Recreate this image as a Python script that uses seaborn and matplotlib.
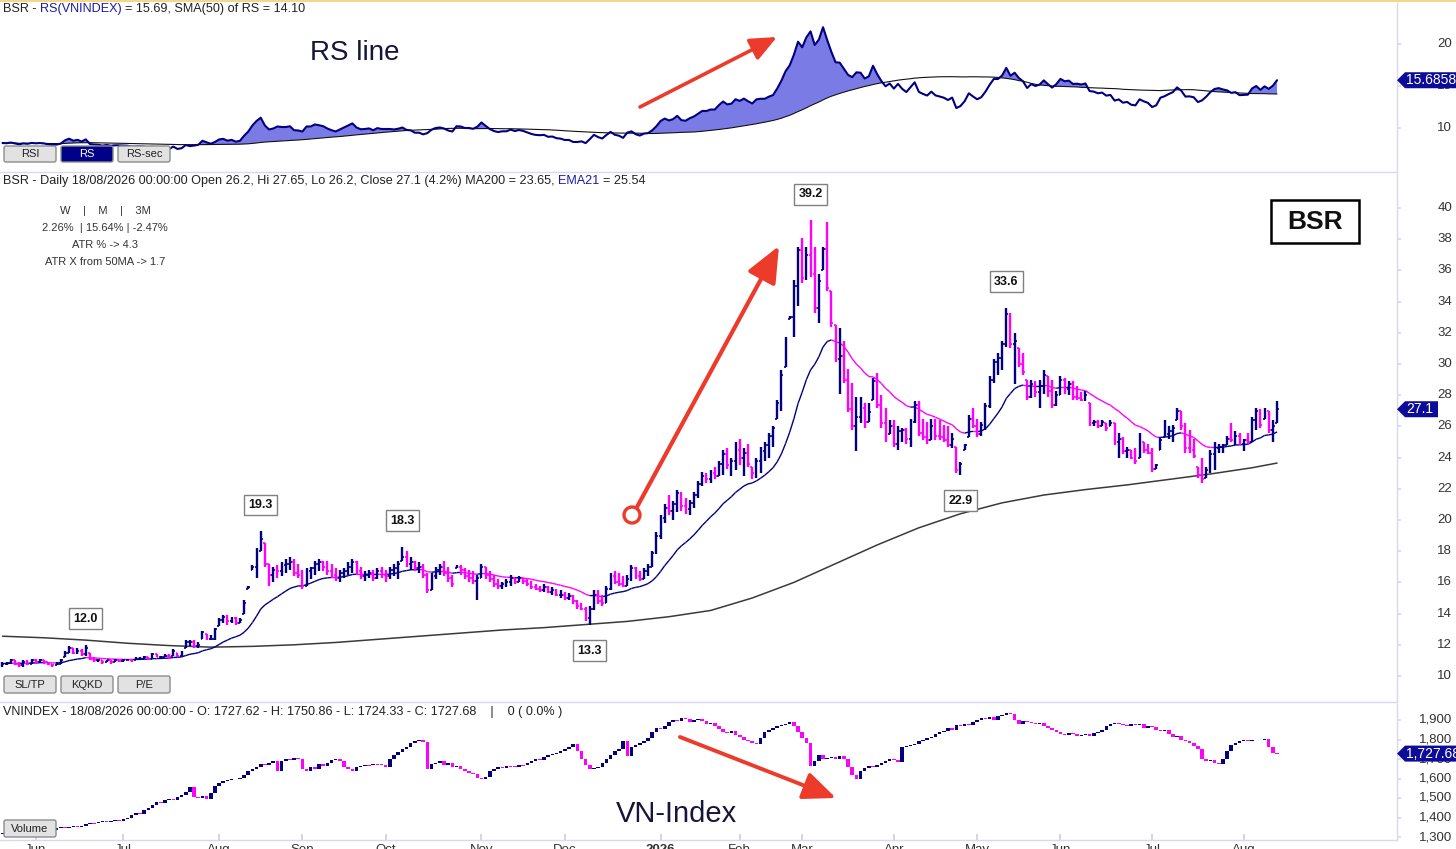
import numpy as np
import pandas as pd
import matplotlib
matplotlib.use("Agg")
import matplotlib.pyplot as plt
import seaborn as sns
from matplotlib.collections import LineCollection
from matplotlib.patches import FancyBboxPatch, Polygon, Circle
from matplotlib.lines import Line2D
from matplotlib.transforms import IdentityTransform

# ---------------- data ----------------
bsr_low = [
    10.6, 10.7, 10.8, 10.7, 10.6, 10.6, 10.7, 10.8, 10.8, 10.9,
    10.8, 10.7, 10.6, 10.7, 10.8, 11.2, 11.5, 11.4, 11.4, 11.3,
    11.3, 11.0, 10.9, 10.9, 10.8, 10.9, 10.8, 10.9, 10.9, 10.9,
    11.0, 10.9, 11.0, 11.0, 11.1, 11.0, 11.1, 11.2, 11.1, 11.2,
    11.1, 11.3, 11.2, 11.3, 11.8, 11.9, 11.8, 11.8, 12.4, 12.3,
    12.3, 12.3, 13.2, 13.4, 13.3, 13.4, 13.3, 13.4, 14.0, 15.6,
    16.8, 16.3, 18.0, 17.0, 15.8, 16.0, 16.3, 16.4, 16.6, 16.8,
    16.4, 16.3, 15.6, 15.8, 16.2, 16.5, 16.7, 16.7, 16.5, 16.3,
    16.1, 16.0, 16.3, 16.5, 16.6, 16.5, 16.2, 16.1, 16.3, 16.1,
    16.2, 16.3, 16.0, 16.2, 16.4, 16.2, 17.4, 17.0, 16.8, 16.7,
    16.6, 16.3, 15.3, 15.5, 16.2, 16.5, 16.4, 16.0, 15.7, 16.9,
    16.5, 16.2, 16.0, 15.9, 14.9, 16.3, 16.2, 16.0, 15.7, 15.6,
    15.6, 15.7, 15.8, 15.9, 16.0, 15.9, 15.8, 15.6, 15.5, 15.4,
    15.4, 15.3, 15.2, 15.1, 15.0, 14.9, 14.9, 14.6, 14.3, 14.2,
    13.5, 13.3, 14.2, 14.6, 14.5, 14.7, 15.5, 15.9, 15.8, 15.7,
    15.8, 16.1, 16.2, 16.1, 16.2, 16.4, 17.0, 17.8, 18.8, 19.8,
    20.3, 20.0, 20.5, 20.6, 20.4, 20.3, 20.8, 21.4, 22.2, 22.4,
    22.4, 22.6, 22.8, 22.9, 23.3, 22.8, 23.2, 23.5, 22.8, 23.4,
    22.6, 22.7, 23.0, 23.8, 24.0, 24.7, 26.5, 27.0, 29.8, 32.9,
    31.7, 33.7, 35.2, 35.4, 35.6, 33.3, 32.6, 36.0, 34.7, 32.4,
    30.1, 28.1, 28.8, 26.9, 25.8, 24.4, 26.2, 25.9, 26.3, 27.7,
    27.2, 25.9, 25.0, 25.5, 24.7, 24.5, 25.0, 24.9, 24.7, 26.2,
    25.4, 25.1, 24.9, 25.1, 25.1, 25.1, 25.0, 24.7, 24.6, 23.0,
    22.9, 24.5, 25.3, 25.9, 25.3, 25.4, 25.8, 27.2, 28.8, 29.3,
    29.6, 31.1, 31.0, 28.7, 29.8, 29.3, 27.7, 27.8, 27.9, 27.2,
    28.1, 27.9, 27.2, 27.3, 28.0, 28.1, 28.0, 27.7, 27.7, 27.6,
    27.6, 26.0, 26.0, 25.9, 26.0, 25.7, 26.0, 24.8, 24.0, 24.2,
    24.0, 23.9, 23.6, 24.0, 24.3, 24.2, 23.1, 23.3, 24.5, 25.3,
    25.2, 25.0, 26.4, 25.8, 24.3, 24.3, 24.0, 22.7, 22.4, 22.7,
    23.0, 23.2, 24.3, 24.3, 24.8, 25.0, 24.8, 24.8, 24.4, 24.9,
    25.0, 25.8, 25.9, 26.5, 25.6, 25.0, 26.2]

bsr_high = [
    10.9, 10.9, 11.1, 11.0, 10.9, 11.0, 11.0, 11.1, 11.1, 11.1,
    11.0, 10.9, 10.8, 10.9, 11.1, 11.6, 11.9, 11.8, 11.8, 11.7,
    12.0, 11.5, 11.2, 11.1, 11.0, 11.0, 11.0, 11.1, 11.0, 11.1,
    11.1, 11.1, 11.2, 11.2, 11.3, 11.2, 11.5, 11.4, 11.3, 11.4,
    11.4, 11.7, 11.5, 11.6, 12.3, 12.3, 12.3, 12.2, 12.9, 12.7,
    12.6, 13.1, 13.7, 13.9, 13.9, 13.8, 13.8, 13.7, 14.9, 15.8,
    17.1, 18.2, 19.3, 18.5, 17.2, 17.0, 17.1, 17.3, 17.5, 17.6,
    17.5, 17.2, 16.8, 16.9, 17.0, 17.4, 17.5, 17.4, 17.4, 17.2,
    16.9, 16.8, 16.9, 17.3, 17.5, 17.4, 17.0, 16.7, 16.8, 16.8,
    16.9, 17.0, 16.8, 17.0, 17.2, 17.4, 18.3, 18.0, 17.6, 17.4,
    17.3, 17.2, 16.6, 16.6, 17.0, 17.2, 17.4, 17.0, 16.5, 17.1,
    17.1, 16.9, 16.8, 16.7, 16.5, 17.2, 17.0, 16.7, 16.5, 16.2,
    16.0, 16.2, 16.5, 16.3, 16.4, 16.3, 16.2, 16.1, 15.9, 15.8,
    15.9, 15.8, 15.7, 15.6, 15.5, 15.4, 15.3, 15.2, 14.9, 14.7,
    14.4, 14.5, 15.5, 15.5, 15.2, 15.8, 16.6, 16.7, 16.6, 16.4,
    16.5, 17.1, 17.0, 16.7, 16.9, 17.2, 18.0, 19.2, 20.3, 21.0,
    21.6, 21.2, 21.9, 21.8, 21.4, 21.3, 21.8, 22.5, 23.1, 23.0,
    23.2, 23.4, 23.8, 24.5, 24.6, 24.0, 25.0, 25.2, 24.6, 24.9,
    23.4, 24.0, 24.7, 25.0, 25.6, 26.0, 27.7, 29.6, 31.7, 33.1,
    35.4, 37.5, 38.1, 37.5, 39.2, 37.5, 35.8, 37.5, 39.1, 34.7,
    32.5, 32.3, 31.5, 29.7, 28.8, 27.9, 27.9, 27.5, 27.5, 29.1,
    29.4, 28.0, 27.2, 26.4, 26.4, 26.0, 25.9, 25.9, 26.5, 27.6,
    27.6, 26.5, 26.3, 26.5, 26.5, 26.4, 26.1, 26.0, 25.6, 24.7,
    23.7, 24.9, 26.7, 27.2, 26.5, 26.3, 27.5, 29.2, 30.3, 30.7,
    31.5, 33.6, 33.3, 32.0, 31.0, 30.7, 29.0, 29.0, 28.9, 29.0,
    29.6, 29.2, 29.0, 28.3, 29.2, 29.1, 28.9, 28.9, 28.6, 28.2,
    28.3, 27.5, 26.4, 26.4, 26.4, 26.2, 26.4, 26.2, 25.6, 25.3,
    24.7, 24.5, 24.6, 25.6, 25.0, 24.9, 24.6, 23.6, 25.3, 26.4,
    26.0, 26.1, 27.2, 27.0, 26.2, 25.8, 25.2, 23.4, 24.0, 23.4,
    24.5, 25.0, 24.9, 24.9, 25.4, 26.2, 25.7, 25.6, 25.2, 25.6,
    26.6, 27.2, 27.1, 27.2, 27.0, 26.4, 27.65]

bsr_close = [
    10.8, 10.85, 11.0, 10.8, 10.7, 10.9, 10.8, 11.0, 10.9, 11.0,
    10.9, 10.8, 10.7, 10.8, 11.0, 11.5, 11.8, 11.5, 11.6, 11.4,
    11.8, 11.1, 11.0, 11.0, 10.9, 11.0, 10.9, 11.0, 10.95, 11.0,
    11.05, 11.0, 11.1, 11.1, 11.2, 11.1, 11.4, 11.2, 11.2, 11.3,
    11.2, 11.6, 11.3, 11.5, 12.2, 12.2, 11.9, 12.0, 12.8, 12.4,
    12.4, 13.0, 13.6, 13.8, 13.5, 13.7, 13.4, 13.6, 14.7, 15.7,
    17.0, 18.0, 18.8, 17.2, 16.5, 16.8, 16.7, 17.1, 17.2, 17.3,
    16.6, 16.5, 15.8, 16.7, 16.9, 17.2, 17.3, 17.0, 16.7, 16.5,
    16.3, 16.6, 16.7, 17.0, 17.3, 16.7, 16.4, 16.5, 16.6, 16.3,
    16.7, 16.5, 16.4, 16.8, 16.9, 17.2, 17.6, 17.2, 17.3, 16.9,
    17.0, 16.5, 15.5, 16.4, 16.8, 17.0, 16.6, 16.3, 15.9, 17.0,
    16.8, 16.4, 16.3, 16.1, 16.3, 17.0, 16.5, 16.2, 15.9, 15.8,
    15.9, 16.0, 16.3, 16.0, 16.3, 16.1, 15.9, 15.7, 15.6, 15.5,
    15.7, 15.4, 15.5, 15.2, 15.2, 15.0, 15.1, 14.8, 14.5, 14.3,
    13.7, 14.3, 15.2, 14.8, 14.7, 15.6, 16.4, 16.0, 15.9, 15.8,
    16.2, 16.9, 16.4, 16.2, 16.7, 17.0, 17.9, 19.0, 20.1, 20.8,
    20.6, 21.0, 21.7, 20.9, 20.7, 21.1, 21.6, 22.3, 22.8, 22.6,
    23.0, 22.8, 23.6, 24.2, 23.5, 23.8, 24.5, 24.0, 24.3, 23.6,
    23.0, 23.8, 24.4, 24.8, 25.4, 25.9, 27.5, 29.3, 31.5, 33.0,
    35.0, 37.3, 35.5, 37.0, 35.8, 33.6, 35.3, 37.4, 34.9, 32.6,
    30.3, 30.5, 29.0, 27.1, 26.0, 26.6, 27.2, 26.3, 26.9, 28.9,
    27.4, 26.2, 25.3, 26.0, 24.9, 25.7, 25.8, 25.2, 26.3, 27.4,
    25.6, 25.3, 25.1, 26.0, 25.4, 25.3, 25.1, 24.8, 25.2, 23.2,
    23.6, 24.8, 26.5, 26.0, 25.5, 26.1, 27.3, 29.0, 30.1, 30.4,
    31.3, 33.2, 31.3, 31.5, 30.0, 29.5, 27.9, 28.7, 28.2, 28.6,
    29.3, 28.3, 27.4, 28.0, 29.0, 28.4, 28.7, 27.9, 27.8, 27.7,
    28.0, 26.2, 26.3, 26.0, 26.3, 25.9, 26.2, 25.0, 25.2, 24.4,
    24.5, 24.0, 23.8, 25.2, 24.5, 24.3, 23.3, 23.5, 25.1, 25.5,
    25.7, 25.9, 27.0, 26.0, 24.6, 24.5, 24.1, 22.9, 22.6, 23.2,
    24.2, 24.6, 24.7, 24.8, 25.2, 25.1, 25.4, 24.9, 25.1, 25.0,
    26.4, 27.0, 26.1, 27.0, 25.8, 26.0, 27.1]

vn_close = [
    1315, 1325, 1330, 1322, 1328, 1335, 1330, 1338, 1333, 1340,
    1336, 1342, 1338, 1345, 1350, 1348, 1352, 1355, 1350, 1358,
    1365, 1372, 1370, 1375, 1380, 1378, 1382, 1385, 1380, 1390,
    1400, 1415, 1425, 1420, 1440, 1450, 1465, 1478, 1475, 1488,
    1495, 1490, 1505, 1515, 1530, 1555, 1505, 1500, 1510, 1495,
    1525, 1560, 1575, 1585, 1590, 1595, 1600, 1605, 1620, 1640,
    1650, 1660, 1675, 1670, 1680, 1690, 1640, 1690, 1700, 1695,
    1705, 1700, 1650, 1640, 1660, 1650, 1675, 1665, 1680, 1695,
    1700, 1690, 1660, 1650, 1640, 1660, 1665, 1670, 1668, 1675,
    1672, 1670, 1660, 1700, 1720, 1735, 1750, 1760, 1780, 1790,
    1800, 1785, 1650, 1675, 1680, 1690, 1670, 1680, 1660, 1665,
    1650, 1640, 1630, 1625, 1605, 1595, 1610, 1640, 1650, 1660,
    1655, 1665, 1662, 1660, 1670, 1668, 1680, 1690, 1700, 1695,
    1710, 1720, 1725, 1730, 1740, 1750, 1760, 1775, 1740, 1700,
    1670, 1650, 1655, 1660, 1680, 1700, 1720, 1740, 1750, 1790,
    1715, 1760, 1770, 1780, 1790, 1810, 1840, 1860, 1855, 1870,
    1890, 1900, 1895, 1912, 1905, 1890, 1900, 1905, 1895, 1880,
    1885, 1870, 1855, 1840, 1835, 1845, 1825, 1815, 1800, 1790,
    1780, 1775, 1810, 1840, 1850, 1860, 1870, 1875, 1880, 1890,
    1870, 1840, 1810, 1780, 1665, 1690, 1720, 1700, 1705, 1710,
    1700, 1715, 1700, 1660, 1620, 1600, 1640, 1655, 1665, 1660,
    1670, 1680, 1690, 1700, 1695, 1685, 1760, 1765, 1770, 1775,
    1790, 1800, 1810, 1815, 1830, 1840, 1845, 1860, 1850, 1875,
    1870, 1880, 1875, 1890, 1900, 1910, 1905, 1915, 1900, 1920,
    1925, 1935, 1930, 1900, 1880, 1895, 1890, 1885, 1880, 1885,
    1870, 1860, 1850, 1840, 1830, 1825, 1835, 1830, 1820, 1825,
    1830, 1820, 1835, 1840, 1850, 1870, 1880, 1885, 1880, 1875,
    1870, 1880, 1875, 1878, 1860, 1870, 1865, 1850, 1845, 1850,
    1830, 1815, 1820, 1800, 1790, 1780, 1765, 1750, 1700, 1690,
    1695, 1680, 1675, 1700, 1740, 1770, 1780, 1790, 1800, 1790,
    1795, 1800, 1795, 1805, 1760, 1730, 1727.68]

ma200_idx = [0, 10, 20, 30, 40, 50, 60, 70, 80, 90, 100, 110, 120, 130, 140, 150,
             160, 170, 180, 190, 200, 210, 220, 230, 240, 250, 260, 270, 280, 290, 300, 306]
ma200_vals = [12.55, 12.45, 12.3, 12.1, 11.95, 11.85, 11.9, 12.0, 12.15, 12.35, 12.55,
              12.75, 12.95, 13.1, 13.3, 13.5, 13.8, 14.2, 15.0, 16.0, 17.2, 18.4, 19.5,
              20.4, 21.1, 21.6, 21.95, 22.25, 22.6, 22.95, 23.35, 23.65]

peak_idx = [20, 62, 96, 194, 241]
trough_idx = [141, 230]

month_labels = ["Jun", "Jul", "Aug", "Sep", "Oct", "Nov", "Dec", "2026", "Feb", "Mar",
                "Apr", "May", "Jun", "Jul", "Aug"]
month_idx = [8, 29, 52, 72, 92, 115, 135, 158, 177, 192, 214, 234, 254, 276, 298]

price_ticks = list(range(10, 41, 2))
rs_ticks = [10, 15, 20]
vn_ticks = [1300, 1400, 1500, 1600, 1700, 1800, 1900]

N = len(bsr_close)
assert len(bsr_low) == N and len(bsr_high) == N and len(vn_close) == N

# ---------------- derived series ----------------
idx = np.arange(N)
close = np.array(bsr_close, float)
high = np.array(bsr_high, float)
low = np.array(bsr_low, float)
opn = np.r_[close[0], close[:-1]]
vn = np.array(vn_close, float)
vn_open = np.r_[vn[0], vn[:-1]]
rs = close / vn * 1000.0
rs_sma = pd.Series(rs).rolling(50, min_periods=1).mean().values
ema21 = pd.Series(close).ewm(span=21, adjust=False).mean().values

NAVY = "#000080"
MAG = "#ff00ff"
RED = "#ec3b2b"
TAGC = "#0c0c98"
SEP = "#d8d8ee"
TXT = "#222222"
HDR = 9.1

# ---------------- figure ----------------
W, H = 1456, 849
sns.set_theme(style="white")
plt.rcParams["font.family"] = ["Liberation Sans", "DejaVu Sans"]
fig = plt.figure(figsize=(W / 100, H / 100), dpi=100)
fig.patch.set_facecolor("white")


def fy(y):
    return 1 - y / H


AXR = 1397
ax_rs = fig.add_axes([0, fy(172), AXR / W, (172 - 3) / H])
ax_px = fig.add_axes([0, fy(702), AXR / W, (702 - 174) / H])
ax_vn = fig.add_axes([0, fy(840), AXR / W, (840 - 704) / H])

XL = (-0.6, 334.8)
for ax in (ax_rs, ax_px, ax_vn):
    ax.set_xlim(*XL)
    ax.set_facecolor("white")
    for s in ("top", "left"):
        ax.spines[s].set_visible(False)
    for s in ("right", "bottom"):
        ax.spines[s].set_visible(True)
        ax.spines[s].set_color(SEP)
        ax.spines[s].set_linewidth(1.0)
    ax.set_xticks([])
    ax.grid(False)

ax_rs.set_ylim(20 - (172 - 44) / 8.4, 20 + (44 - 3) / 8.4)
ax_px.set_ylim(40 - (702 - 208) / 15.6, 40 + (208 - 174) / 15.6)
ax_vn.set_ylim(1900 - (840 - 720) / 0.195, 1900 + (720 - 704) / 0.195)


def right_labels(ax, vals, fmt):
    ax.set_yticks(vals)
    ax.tick_params(axis="y", left=False, right=True, labelleft=False, labelright=False,
                   length=3, color=SEP, direction="out")
    for v in vals:
        ax.text(1452 / AXR, v, fmt(v), transform=ax.get_yaxis_transform(), ha="right",
                va="center", fontsize=9.5, color="#333333", clip_on=False)


right_labels(ax_rs, rs_ticks, lambda v: f"{v:d}")
right_labels(ax_px, price_ticks, lambda v: f"{v:d}")
right_labels(ax_vn, vn_ticks, lambda v: f"{v:,d}")

# ---------------- RS panel ----------------
ax_rs.fill_between(idx, rs, rs_sma, where=rs >= rs_sma, interpolate=True,
                   color="#7b7be6", linewidth=0, zorder=1)
sns.lineplot(x=idx, y=rs_sma, ax=ax_rs, color="#111111", lw=0.8, zorder=2)
sns.lineplot(x=idx, y=rs, ax=ax_rs, color=NAVY, lw=1.5, zorder=3)
ax_rs.set_ylabel("")

# ---------------- price panel ----------------
sns.lineplot(x=ma200_idx, y=ma200_vals, ax=ax_px, color="#3a3a3a", lw=1.1, zorder=2)
segs = [[(i, ema21[i]), (i + 1, ema21[i + 1])] for i in range(N - 1)]
ecols = [NAVY if ema21[i + 1] >= ema21[i] else MAG for i in range(N - 1)]
ax_px.add_collection(LineCollection(segs, colors=ecols, linewidths=1.0, zorder=2))
ax_px.set_ylabel("")

bcol = [NAVY if c >= o else MAG for c, o in zip(close, opn)]
op_plot = np.clip(opn, low, high)
ax_px.vlines(idx, low, high, colors=bcol, lw=1.7, zorder=3)
ax_px.hlines(op_plot, idx - 0.45, idx, colors=bcol, lw=1.2, zorder=3)
ax_px.hlines(close, idx, idx + 0.45, colors=bcol, lw=1.2, zorder=3)

for i in peak_idx:
    ax_px.annotate(f"{high[i]:.1f}", xy=(i, high[i]), xytext=(0, 26), textcoords="offset pixels",
                   ha="center", va="center", fontsize=9, fontweight="bold", color="#111",
                   bbox=dict(boxstyle="square,pad=0.35", fc="white", ec="#808080", lw=1), zorder=6)
for i in trough_idx:
    ax_px.annotate(f"{low[i]:.1f}", xy=(i, low[i]), xytext=(0, -26), textcoords="offset pixels",
                   ha="center", va="center", fontsize=9, fontweight="bold", color="#111",
                   bbox=dict(boxstyle="square,pad=0.35", fc="white", ec="#808080", lw=1), zorder=6)

# ---------------- VN panel ----------------
vcol = [NAVY if c >= o else MAG for c, o in zip(vn, vn_open)]
body = vn - vn_open
body = np.where(np.abs(body) < 5, np.where(body >= 0, 5, -5), body)
ax_vn.bar(idx, body, bottom=vn_open, width=0.85, color=vcol, linewidth=0, zorder=3)
ax_vn.set_xticks(month_idx)
ax_vn.tick_params(axis="x", bottom=True, labelbottom=False, direction="in", length=4, color="#cfcfe0")
for m, lab in zip(month_idx, month_labels):
    ax_vn.text(m, -0.03, lab, transform=ax_vn.get_xaxis_transform(), ha="center", va="top",
               fontsize=9.5, color="#333333", fontweight="bold" if lab == "2026" else "normal",
               clip_on=False)

# ---------------- overlays in pixel space ----------------
fig.canvas.draw()


def px(x, y):
    return (x, H - y)


def tag(ax, value, text, right):
    xd, yd = ax.get_yaxis_transform().transform((1.0, value))
    hh = 8
    pts = [(xd, yd), (xd + 8, yd + hh), (right, yd + hh), (right, yd - hh), (xd + 8, yd - hh)]
    fig.add_artist(Polygon(pts, closed=True, transform=IdentityTransform(), fc=TAGC, ec="none", zorder=20))
    fig.text((xd + 9) / W, yd / H, text, ha="left", va="center", color="white", fontsize=10, zorder=21)


tag(ax_rs, rs[-1], f"{rs[-1]:.4f}", W)
tag(ax_px, close[-1], f"{close[-1]:.1f}", 1438)
tag(ax_vn, vn[-1], f"{vn[-1]:,.2f}", W)

renderer = fig.canvas.get_renderer()


def adv(s, size):
    t1 = fig.text(0, 0, "|" + s + "|", fontsize=size)
    t2 = fig.text(0, 0, "||", fontsize=size)
    w = t1.get_window_extent(renderer).width - t2.get_window_extent(renderer).width
    t1.remove()
    t2.remove()
    return w


def seg_text(x0, y, parts, size=HDR):
    full = ""
    for s, c in parts:
        x = x0 + adv(full, size) if full else x0
        fig.text(x / W, fy(y), s.strip(), color=c, fontsize=size, ha="left", va="center", zorder=15)
        full += s


BLUE = "#1a1aa8"
seg_text(3, 9, [("BSR - ", TXT), ("RS(VNINDEX) ", BLUE), ("= 15.69, SMA(50) of RS = 14.10", TXT)])
seg_text(3, 181, [("BSR - Daily 18/08/2026 00:00:00 Open 26.2, Hi 27.65, Lo 26.2, Close 27.1 (4.2%) MA200 = 23.65, ", TXT),
                  ("EMA21 ", BLUE), ("= 25.54", TXT)])
seg_text(3, 712, [("VNINDEX - 18/08/2026 00:00:00 - O: 1727.62 - H: 1750.86 - L: 1724.33 - C: 1727.68    |    0 ( 0.0% )", TXT)])

for yy, s in zip([211, 228, 245, 262], ["W    |    M    |    3M", "2.26%  | 15.64% | -2.47%",
                                         "ATR % -> 4.3", "ATR X from 50MA -> 1.7"]):
    fig.text(105 / W, fy(yy), s, ha="center", va="center", fontsize=8, color="#333333")

fig.text(355 / W, fy(53), "RS line", ha="center", va="center", fontsize=20, color="#16163a")
fig.text(677 / W, fy(814), "VN-Index", ha="center", va="center", fontsize=21, color="#16163a")

# BSR box
fig.add_artist(FancyBboxPatch(px(1271, 243), 88, 43, boxstyle="square,pad=0", transform=IdentityTransform(),
                              fc="white", ec="black", lw=1.8, zorder=12))
fig.text(1315 / W, fy(222), "BSR", ha="center", va="center", fontsize=19, fontweight="bold", color="#111", zorder=13)


def button(x0, y0, x1, y1, text, fc="#e2e2e2", tc="#222222"):
    fig.add_artist(FancyBboxPatch(px(x0, y1), x1 - x0, y1 - y0, boxstyle="round,pad=0,rounding_size=2",
                                  transform=IdentityTransform(), fc=fc, ec="#8c8c8c", lw=1, zorder=12))
    fig.text(((x0 + x1) / 2) / W, fy((y0 + y1) / 2), text, ha="center", va="center", fontsize=8, color=tc, zorder=13)


button(4, 146, 56, 162, "RSI")
button(61, 146, 113, 162, "RS", fc="#000088", tc="white")
button(118, 146, 170, 162, "RS-sec")
button(4, 676, 56, 693, "SL/TP")
button(61, 676, 113, 693, "KQKD")
button(118, 676, 170, 693, "P/E")
button(4, 820, 56, 837, "Volume")

# red arrows
ax_rs.annotate("", xy=px(777, 37), xytext=px(640, 107), xycoords="figure pixels", textcoords="figure pixels",
               arrowprops=dict(arrowstyle="-|>,head_length=1.6,head_width=0.7", color=RED, lw=2.6,
                               mutation_scale=10, shrinkA=0, shrinkB=0), annotation_clip=False)
ax_px.annotate("", xy=px(779, 246), xytext=px(637, 507), xycoords="figure pixels", textcoords="figure pixels",
               arrowprops=dict(arrowstyle="-|>,head_length=2.2,head_width=0.95", color=RED, lw=3.0,
                               mutation_scale=10, shrinkA=0, shrinkB=0), annotation_clip=False)
ax_vn.annotate("", xy=px(836, 798), xytext=px(680, 737), xycoords="figure pixels", textcoords="figure pixels",
               arrowprops=dict(arrowstyle="-|>,head_length=2.0,head_width=0.85", color=RED, lw=2.8,
                               mutation_scale=10, shrinkA=0, shrinkB=0), annotation_clip=False)
fig.add_artist(Circle(px(632, 515), 8, transform=IdentityTransform(), fc="none", ec=RED, lw=2.4, zorder=14))

# top yellow border
fig.add_artist(Line2D([0, 1], [1 - 1 / H, 1 - 1 / H], transform=fig.transFigure, color="#f2d98a", lw=1.5))

fig.savefig("out.png", dpi=100)
